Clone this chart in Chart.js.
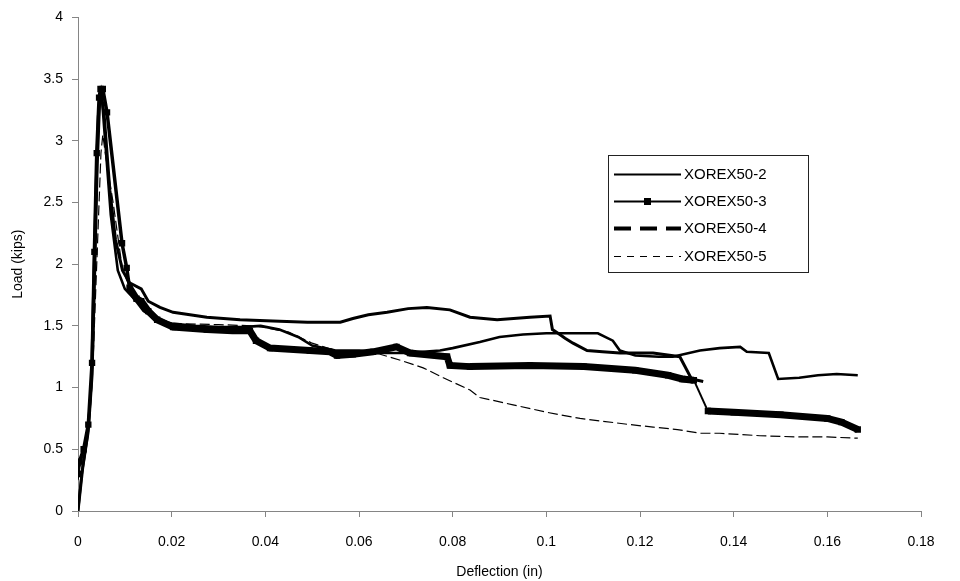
<!DOCTYPE html>
<html><head><meta charset="utf-8">
<script src="https://cdn.jsdelivr.net/npm/chart.js@4.4.0/dist/chart.umd.min.js"></script>
<style>html,body{margin:0;padding:0;background:#fff;}canvas{display:block;}</style>
</head><body>
<canvas id="c" width="960" height="581"></canvas>
<script>
const seriesNames = ['XOREX50-2', 'XOREX50-3', 'XOREX50-4', 'XOREX50-5'];
const xTickValues = [0, 0.02, 0.04, 0.06, 0.08, 0.1, 0.12, 0.14, 0.16, 0.18];
const xTickLabels = ['0', '0.02', '0.04', '0.06', '0.08', '0.1', '0.12', '0.14', '0.16', '0.18'];
const yTickValues = [0, 0.5, 1, 1.5, 2, 2.5, 3, 3.5, 4];
const yTickLabels = ['0', '0.5', '1', '1.5', '2', '2.5', '3', '3.5', '4'];
const xTitle = 'Deflection (in)';
const yTitle = 'Load (kips)';

// XOREX50-2
const s2X = [0, 0.0008, 0.002, 0.0028, 0.0033, 0.0038, 0.0043, 0.0047, 0.0052, 0.0058, 0.007, 0.0085, 0.01, 0.012, 0.014, 0.017, 0.02, 0.025, 0.03, 0.035, 0.039, 0.043, 0.047, 0.05, 0.055, 0.06, 0.065, 0.07, 0.0773, 0.08, 0.0858, 0.09, 0.095, 0.1, 0.105, 0.111, 0.1142, 0.1157, 0.119, 0.124, 0.127, 0.1328, 0.137, 0.1414, 0.1428, 0.1475, 0.1495, 0.154, 0.158, 0.162, 0.1665];
const s2Y = [0, 0.3, 0.6, 1.0, 1.8, 2.6, 3.2, 3.35, 3.3, 3.0, 2.4, 1.95, 1.8, 1.72, 1.62, 1.55, 1.52, 1.5, 1.49, 1.49, 1.5, 1.47, 1.41, 1.34, 1.3, 1.3, 1.28, 1.28, 1.30, 1.32, 1.37, 1.41, 1.43, 1.44, 1.44, 1.44, 1.38, 1.30, 1.26, 1.25, 1.25, 1.30, 1.32, 1.33, 1.29, 1.28, 1.07, 1.08, 1.10, 1.11, 1.10];
// XOREX50-3
const s3X = [0, 0.0003, 0.0012, 0.0022, 0.003, 0.0035, 0.004, 0.0045, 0.0048, 0.0053, 0.0062, 0.0094, 0.0104, 0.011, 0.0125, 0.0135, 0.015, 0.0169, 0.0203, 0.0275, 0.033, 0.0367, 0.038, 0.041, 0.0495, 0.0538, 0.0553, 0.0587, 0.063, 0.068, 0.0709, 0.0788, 0.0794, 0.0837, 0.0965, 0.108, 0.119, 0.126, 0.129, 0.1315, 0.1345, 0.14, 0.15, 0.16, 0.163, 0.1665];
const s3Y = [0.3, 0.4, 0.5, 0.7, 1.2, 2.1, 2.9, 3.35, 3.42, 3.42, 3.23, 2.17, 1.97, 1.81, 1.72, 1.70, 1.62, 1.55, 1.49, 1.47, 1.46, 1.46, 1.38, 1.32, 1.30, 1.29, 1.26, 1.27, 1.29, 1.33, 1.28, 1.25, 1.18, 1.17, 1.18, 1.17, 1.14, 1.10, 1.07, 1.06, 0.81, 0.80, 0.78, 0.75, 0.72, 0.66];
// XOREX50-4
const s4X = [0, 0.001, 0.0022, 0.003, 0.0036, 0.0041, 0.0046, 0.005, 0.0056, 0.0068, 0.008, 0.0095, 0.011, 0.0135, 0.015, 0.0175, 0.0203, 0.0275, 0.0346, 0.0416, 0.049, 0.056, 0.0587, 0.062, 0.066, 0.0705, 0.0745, 0.0794, 0.0837, 0.0895, 0.0965, 0.1008, 0.1013, 0.1025, 0.104, 0.1057, 0.1087, 0.112, 0.1157, 0.1228, 0.1285, 0.131, 0.1335];
const s4Y = [0, 0.35, 0.65, 1.1, 2.0, 2.8, 3.3, 3.38, 3.2, 2.6, 2.2, 1.95, 1.85, 1.8, 1.7, 1.65, 1.61, 1.57, 1.55, 1.54, 1.53, 1.53, 1.56, 1.59, 1.61, 1.64, 1.65, 1.63, 1.57, 1.55, 1.57, 1.58, 1.47, 1.44, 1.40, 1.36, 1.30, 1.29, 1.28, 1.28, 1.25, 1.07, 1.05];
// XOREX50-5
const s5X = [0, 0.001, 0.0022, 0.0032, 0.0042, 0.0049, 0.0053, 0.006, 0.0075, 0.0094, 0.0104, 0.012, 0.015, 0.02, 0.03, 0.038, 0.045, 0.05, 0.055, 0.06, 0.0645, 0.069, 0.0737, 0.078, 0.0837, 0.0858, 0.0929, 0.1001, 0.1072, 0.1179, 0.1228, 0.128, 0.1328, 0.137, 0.1456, 0.154, 0.16, 0.1665];
const s5Y = [0.25, 0.45, 0.7, 1.2, 2.2, 2.9, 3.05, 2.85, 2.5, 1.98, 1.87, 1.75, 1.6, 1.52, 1.51, 1.5, 1.45, 1.36, 1.3, 1.3, 1.27, 1.22, 1.16, 1.08, 0.98, 0.92, 0.86, 0.80, 0.75, 0.70, 0.68, 0.66, 0.63, 0.63, 0.61, 0.60, 0.60, 0.59];

const pts = (xs, ys) => xs.map((x, i) => ({x: x, y: ys[i]}));
const FONT = '"Liberation Sans", Arial, sans-serif';
const AXIS_GREY = '#858585';

// legend sample styles (visual only)
const legendStyles = [
  {width: 2, dash: [], marker: false},
  {width: 2, dash: [], marker: true},
  {width: 4, dash: [17, 9], marker: false},
  {width: 1, dash: [7, 6], marker: false}
];

const boxLegend = {
  id: 'boxLegend',
  afterDraw(chart) {
    const ctx = chart.ctx;
    const L = 608, T = 155, W = 200, H = 117;
    ctx.save();
    ctx.fillStyle = '#fff';
    ctx.fillRect(L, T, W, H);
    ctx.strokeStyle = '#222';
    ctx.lineWidth = 1;
    ctx.strokeRect(L + 0.5, T + 0.5, W, H);
    const rowY = [174, 201, 228, 256];
    seriesNames.forEach((name, i) => {
      const st = legendStyles[i];
      const y = rowY[i] + 0.5;
      ctx.beginPath();
      ctx.setLineDash(st.dash);
      ctx.lineWidth = st.width;
      ctx.strokeStyle = '#000';
      ctx.moveTo(614, y);
      ctx.lineTo(681, y);
      ctx.stroke();
      ctx.setLineDash([]);
      if (st.marker) {
        ctx.fillStyle = '#000';
        ctx.fillRect(644, y - 3.5, 7, 7);
      }
      ctx.fillStyle = '#000';
      ctx.font = '15px ' + FONT;
      ctx.textBaseline = 'middle';
      ctx.textAlign = 'left';
      ctx.fillText(name, 684, y);
    });
    ctx.restore();
  }
};

const s3Thick = (ctx) => {
  const x0 = ctx.p0.parsed.x;
  if (x0 < 0.0109) return 3.5;
  if (x0 >= 0.1312 && x0 < 0.134) return 2;
  return 7;
};

new Chart(document.getElementById('c'), {
  type: 'scatter',
  data: {
    datasets: [
      {label: seriesNames[0], data: pts(s2X, s2Y), showLine: true, borderColor: '#000', backgroundColor: '#000', borderWidth: 2.6, pointRadius: 0, tension: 0},
      {label: seriesNames[1], data: pts(s3X, s3Y), showLine: true, borderColor: '#000', backgroundColor: '#000', borderWidth: 7, pointStyle: 'rect', pointRadius: 4.5, pointBorderWidth: 0, tension: 0,
        segment: {borderWidth: s3Thick}},
      {label: seriesNames[2], data: pts(s4X, s4Y), showLine: true, borderColor: '#000', backgroundColor: '#000', borderWidth: 3, pointRadius: 0, tension: 0},
      {label: seriesNames[3], data: pts(s5X, s5Y), showLine: true, borderColor: '#000', backgroundColor: '#000', borderWidth: 1.2, borderDash: [10, 4], pointRadius: 0, tension: 0}
    ]
  },
  options: {
    responsive: false,
    animation: false,
    devicePixelRatio: 1,
    layout: {padding: {top: 17, right: 39, left: 0, bottom: 0}},
    plugins: {legend: {display: false}, tooltip: {enabled: false}},
    scales: {
      x: {
        type: 'linear', min: 0, max: 0.18,
        afterFit: (s) => { s.height = 70; },
        afterBuildTicks: (s) => { s.ticks = xTickValues.map(v => ({value: v})); },
        grid: {display: true, drawOnChartArea: false, drawTicks: true, tickLength: 6, color: AXIS_GREY},
        border: {display: true, color: AXIS_GREY, width: 1},
        ticks: {color: '#000', font: {family: FONT, size: 14}, padding: 17, maxRotation: 0, autoSkip: false,
          callback: (v, i) => xTickLabels[i]},
        title: {display: true, text: xTitle, color: '#000', font: {family: FONT, size: 14}, padding: {top: 0, bottom: 0}}
      },
      y: {
        type: 'linear', min: 0, max: 4,
        afterFit: (s) => { s.width = 78; },
        afterBuildTicks: (s) => { s.ticks = yTickValues.map(v => ({value: v})); },
        grid: {display: true, drawOnChartArea: false, drawTicks: true, tickLength: 6, color: AXIS_GREY},
        border: {display: true, color: AXIS_GREY, width: 1},
        ticks: {color: '#000', font: {family: FONT, size: 14}, padding: 9, autoSkip: false,
          callback: (v, i) => yTickLabels[i]},
        title: {display: true, text: yTitle, color: '#000', font: {family: FONT, size: 14}, padding: {top: 10, bottom: 0}}
      }
    }
  },
  plugins: [boxLegend]
});
</script>
</body></html>
